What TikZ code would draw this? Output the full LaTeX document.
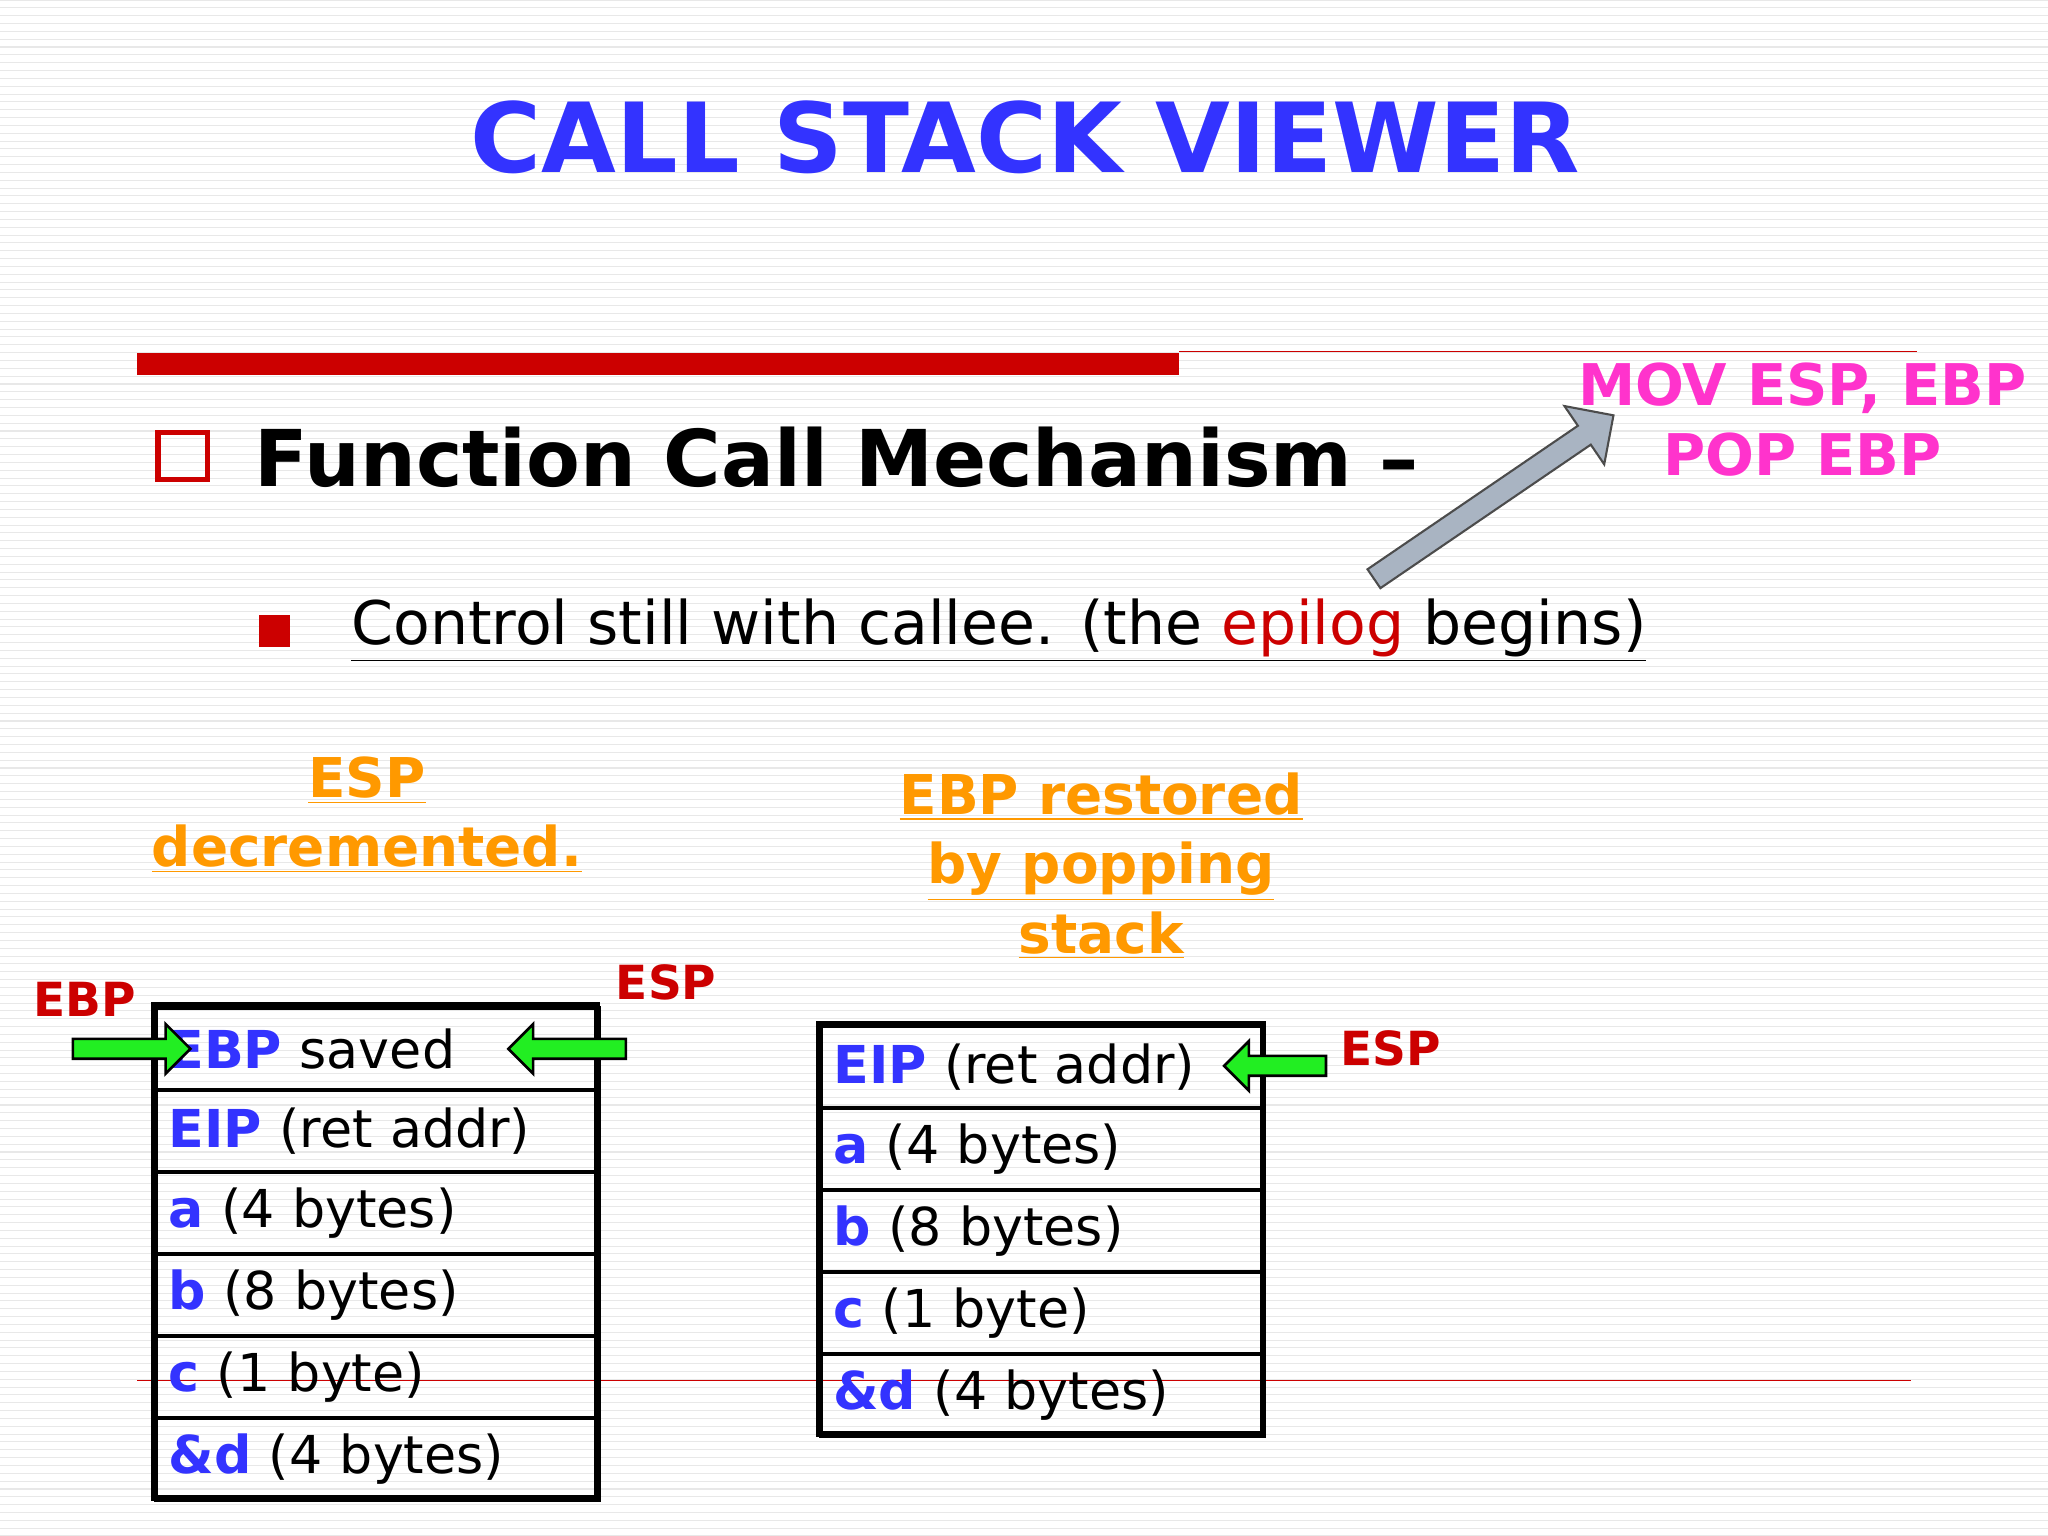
\documentclass[tikz,border=0pt]{standalone}
\usepackage{fontspec}
\setmainfont{DejaVu Sans}
\usetikzlibrary{shapes.arrows}
\definecolor{tblue}{HTML}{3333FF}
\definecolor{tred}{HTML}{CC0000}
\definecolor{tmag}{HTML}{FF33CC}
\definecolor{torange}{HTML}{FF9900}
\definecolor{tgreen}{HTML}{22EE22}
\definecolor{tgray}{HTML}{A9B4C2}
\begin{document}
\begin{tikzpicture}[x=0.5pt,y=-0.5pt,
 row/.style={draw=black,line width=1.5pt,minimum width=169.5pt,minimum height=31.4pt,inner sep=0pt,anchor=north west,text width=160pt,align=left,font=\fontsize{20}{24}\selectfont},
 lab/.style={text=tred,font=\bfseries\fontsize{18}{21}\selectfont},
 garrow/.style={single arrow,draw=black,fill=tgreen,line width=1pt,minimum height=45pt,minimum width=19pt,single arrow head extend=3pt,inner sep=1.5pt},
 orng/.style={text=torange,font=\bfseries\fontsize{21}{26.5}\selectfont,align=center}]
\useasboundingbox (0,0) rectangle (1568,1176);
\fill[white] (0,0) rectangle (1568,1176);
\foreach \y in {0,6,...,1176} \draw[black!9,line width=0.4pt] (0,\y) -- (1568,\y);
\node (title) at (785,105) {\textcolor{tblue}{\bfseries\fontsize{37}{44}\selectfont CALL STACK VIEWER}};
\fill[tred] (105,270) rectangle (903,287);
\draw[tred,line width=0.5pt] (903,269) -- (1468,269);
\draw[tred,line width=0.5pt] (105,1057) -- (1463,1057);
\draw[tred,line width=2pt] (121,331) rectangle (159,367);
\node[anchor=west] (fcm) at (188,350) {\bfseries\fontsize{30}{36}\selectfont Function Call Mechanism –};
\node (mov) at (1380,297) {\textcolor{tmag}{\bfseries\fontsize{22}{26}\selectfont MOV ESP, EBP}};
\node (pop) at (1380,348) {\textcolor{tmag}{\bfseries\fontsize{22}{26}\selectfont POP EBP}};
\node[single arrow,draw=black!70,fill=tgray,line width=0.8pt,minimum height=111pt,minimum width=27pt,single arrow head extend=5pt,inner sep=2pt,rotate=34.3] (garr) at (1140,383) {};
\fill[tred] (198,471) rectangle (222,495);
\node[anchor=west] (ctl) at (262,483) {\fontsize{23}{28}\selectfont\underline{Control still with callee. (the \textcolor{tred}{epilog} begins)}};
\node[orng] (t1) at (281,624) {\underline{ESP}\\\underline{decremented.}};
\node[orng] (t2) at (843,663) {\underline{EBP restored}\\\underline{by popping}\\\underline{stack}};
% left stack
\foreach \t [count=\i from 0] in {{\textcolor{tblue}{\bfseries EBP} saved},{\textcolor{tblue}{\bfseries EIP} (ret addr)},{\textcolor{tblue}{\bfseries a} (4 bytes)},{\textcolor{tblue}{\bfseries b} (8 bytes)},{\textcolor{tblue}{\bfseries c} (1 byte)},{\textcolor{tblue}{\bfseries \&d} (4 bytes)}}
  \node[row] (L\i) at (118,770+62.8*\i) {\t};
\draw[line width=2.5pt] (118,770) rectangle (457,1147);
% right stack
\foreach \t [count=\i from 0] in {{\textcolor{tblue}{\bfseries EIP} (ret addr)},{\textcolor{tblue}{\bfseries a} (4 bytes)},{\textcolor{tblue}{\bfseries b} (8 bytes)},{\textcolor{tblue}{\bfseries c} (1 byte)},{\textcolor{tblue}{\bfseries \&d} (4 bytes)}}
  \node[row] (R\i) at (627,784+62.8*\i) {\t};
\draw[line width=2.5pt] (627,784) rectangle (967,1098);
\node[garrow] (a1) at (97,803) {};
\node[garrow,shape border rotate=180] (a2) at (438,803) {};
\node[garrow,shape border rotate=180,minimum height=39pt] (a3) at (980,816) {};
\node[lab] (ebp) at (65,765) {EBP};
\node[lab] (esp1) at (510,752) {ESP};
\node[lab] (esp2) at (1065,803) {ESP};
\end{tikzpicture}
\end{document}
